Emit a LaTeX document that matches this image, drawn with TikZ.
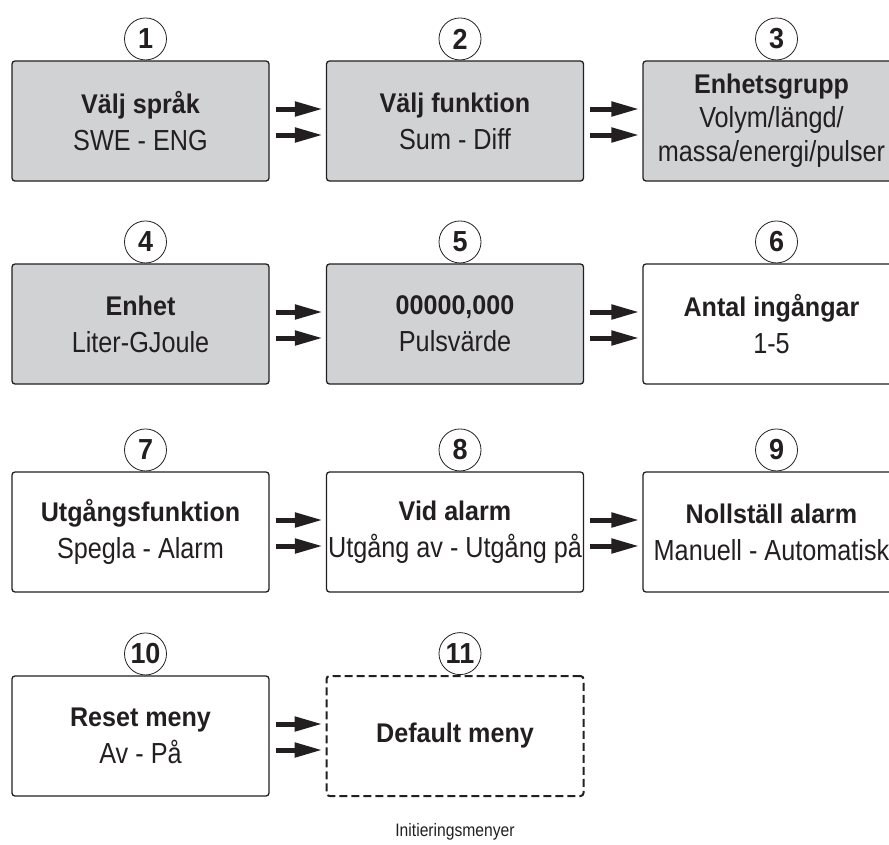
\documentclass[tikz,border=0pt]{standalone}
\usepackage{fontspec}
\setmainfont{Liberation Sans}[FakeStretch=0.87]
\newfontfamily\fetfont{Liberation Sans}[FakeStretch=0.93]
\usetikzlibrary{arrows.meta}
\definecolor{menygra}{RGB}{209,210,212}
\definecolor{svart}{RGB}{35,31,32}
\newcommand{\rubrik}[1]{{\fetfont\bfseries\fontsize{27}{37}\selectfont #1}}
\tikzset{
  meny/.style={draw=svart, line width=1.3pt, rounded corners=3pt, minimum width=257pt, minimum height=120pt, inner sep=0pt, align=center, text=svart, font=\fontsize{29}{37}\selectfont},
  menygr/.style={meny, fill=menygra},
  nummer/.style={draw=svart, circle, line width=0.8pt, minimum size=42pt, inner sep=0pt, text=svart, font=\fetfont\fontsize{29}{29}\selectfont\bfseries},
  pil/.style={draw=svart, line width=5pt, -{Triangle[length=28pt,width=14pt]}},
}
\begin{document}
\begin{tikzpicture}[x=1pt,y=-1pt]
	\useasboundingbox (0,0) rectangle (889,844);
	% rad 1
	\node[menygr] (m1) at (140.5,121){\rubrik{Välj språk}\\SWE - ENG};
	\node[menygr] (m2) at (455,121){\rubrik{Välj funktion}\\Sum - Diff};
	\node[menygr] (m3) at (771.5,121){\rubrik{Enhetsgrupp}\\[-3pt]Volym/längd/\\[-3pt]massa/energi/pulser};
	% rad 2
	\node[menygr] (m4) at (140.5,324){\rubrik{Enhet}\\Liter-GJoule};
	\node[menygr] (m5) at (455,324){\rubrik{00000,000}\\Pulsvärde};
	\node[meny] (m6) at (771.5,324){\rubrik{Antal ingångar}\\1-5};
	% rad 3
	\node[meny] (m7) at (140.5,532){\rubrik{Utgångsfunktion}\\Spegla - Alarm};
	\node[meny] (m8) at (455,532){\rubrik{Vid alarm}\\Utgång av - Utgång på};
	\node[meny] (m9) at (771.5,532){\rubrik{Nollställ alarm}\\Manuell - Automatisk};
	% rad 4
	\node[meny] (m10) at (140.5,736){\rubrik{Reset meny}\\Av - På};
	\node[meny, line width=2pt, dash pattern=on 8pt off 4pt] (m11) at (455,736){\rubrik{Default meny}};
	% nummer
	\node[nummer, above] (n1) at ([xshift=5pt]m1.north){1};
	\node[nummer, above] (n2) at ([xshift=5pt]m2.north){2};
	\node[nummer, above] (n3) at ([xshift=5pt]m3.north){3};
	\node[nummer, above] (n4) at ([xshift=5pt]m4.north){4};
	\node[nummer, above] (n5) at ([xshift=5pt]m5.north){5};
	\node[nummer, above] (n6) at ([xshift=5pt]m6.north){6};
	\node[nummer, above] (n7) at ([xshift=5pt]m7.north){7};
	\node[nummer, above] (n8) at ([xshift=5pt]m8.north){8};
	\node[nummer, above] (n9) at ([xshift=5pt]m9.north){9};
	\node[nummer, above] (n10) at ([xshift=5pt]m10.north){10};
	\node[nummer, above] (n11) at ([xshift=5pt]m11.north){11};
	% pilar
	\draw[pil] ([xshift=6pt,yshift=12pt]m1.east)--([xshift=-3pt,yshift=12pt]m2.west);
	\draw[pil] ([xshift=6pt,yshift=-14pt]m1.east)--([xshift=-3pt,yshift=-14pt]m2.west);
	\draw[pil] ([xshift=6pt,yshift=12pt]m2.east)--([xshift=-3pt,yshift=12pt]m3.west);
	\draw[pil] ([xshift=6pt,yshift=-14pt]m2.east)--([xshift=-3pt,yshift=-14pt]m3.west);
	\draw[pil] ([xshift=6pt,yshift=12pt]m4.east)--([xshift=-3pt,yshift=12pt]m5.west);
	\draw[pil] ([xshift=6pt,yshift=-14pt]m4.east)--([xshift=-3pt,yshift=-14pt]m5.west);
	\draw[pil] ([xshift=6pt,yshift=12pt]m5.east)--([xshift=-3pt,yshift=12pt]m6.west);
	\draw[pil] ([xshift=6pt,yshift=-14pt]m5.east)--([xshift=-3pt,yshift=-14pt]m6.west);
	\draw[pil] ([xshift=6pt,yshift=12pt]m7.east)--([xshift=-3pt,yshift=12pt]m8.west);
	\draw[pil] ([xshift=6pt,yshift=-14pt]m7.east)--([xshift=-3pt,yshift=-14pt]m8.west);
	\draw[pil] ([xshift=6pt,yshift=12pt]m8.east)--([xshift=-3pt,yshift=12pt]m9.west);
	\draw[pil] ([xshift=6pt,yshift=-14pt]m8.east)--([xshift=-3pt,yshift=-14pt]m9.west);
	\draw[pil] ([xshift=6pt,yshift=12pt]m10.east)--([xshift=-3pt,yshift=12pt]m11.west);
	\draw[pil] ([xshift=6pt,yshift=-14pt]m10.east)--([xshift=-3pt,yshift=-14pt]m11.west);
	% rubrik
	\node[text=svart, font=\fontsize{18}{18}\selectfont] (rubrik) at (455,832){Initieringsmenyer};
\end{tikzpicture}
\end{document}
